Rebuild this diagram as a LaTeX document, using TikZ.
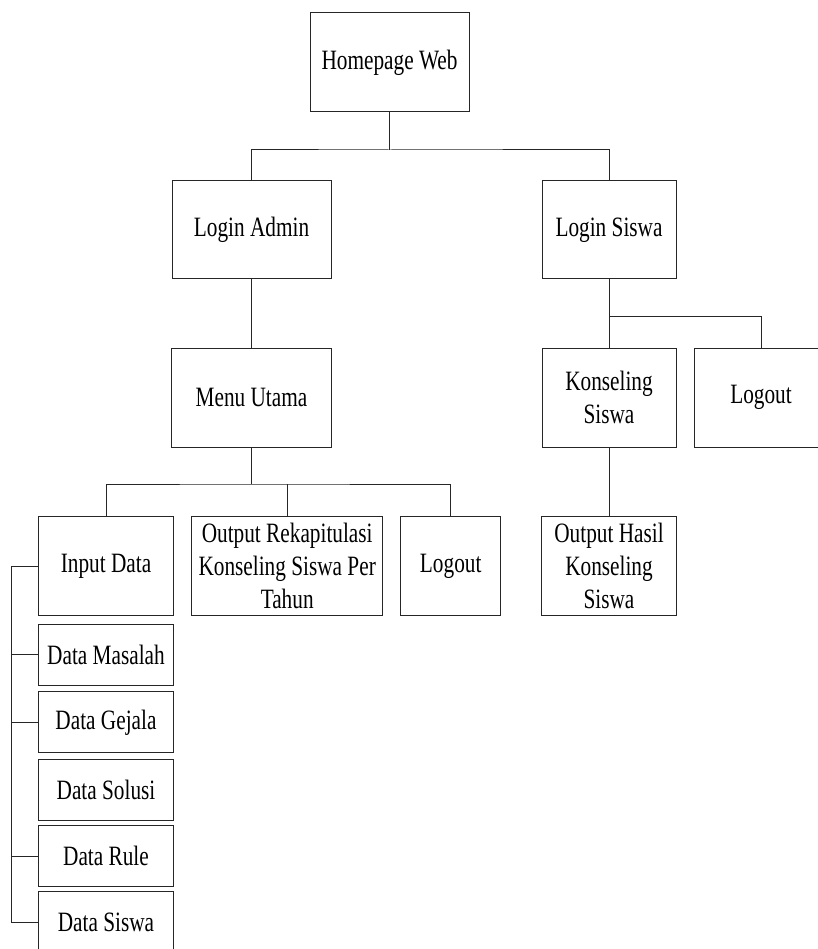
\documentclass[tikz,border=0pt]{standalone}
\usepackage{fontspec}
\setmainfont{Liberation Serif}[FakeStretch=0.76]
\begin{document}
\begin{tikzpicture}[x=1pt,y=-1pt,
  every node/.style={font=\fontsize{28}{33}\selectfont},
  box/.style={draw=black!85,line width=1pt,inner sep=0pt,align=center,anchor=center},
  link/.style={draw=black!85,line width=1pt}]
\useasboundingbox (0,0) rectangle (817,949);
\node[box,minimum width=159,minimum height=99] (home) at (389.5,62.5) {Homepage Web};
\node[box,minimum width=159,minimum height=98] (ladmin) at (251.5,230) {Login Admin};
\node[box,minimum width=134,minimum height=98] (lsiswa) at (609,230) {Login Siswa};
\node[box,minimum width=160,minimum height=99] (menu) at (251.5,397.5) {Menu Utama};
\node[box,minimum width=134,minimum height=99] (kons) at (609,397.5) {Konseling\\Siswa};
\node[box,minimum width=134,minimum height=99] (logout1) at (761,397.5) {Logout};
\node[box,minimum width=134.6,minimum height=99.3] (input) at (106,566.3) {Input Data};
\node[box,minimum width=191,minimum height=99] (outrek) at (287.2,566.2) {Output Rekapitulasi\\Konseling Siswa Per\\Tahun};
\node[box,minimum width=100,minimum height=99] (logout2) at (450.7,566.2) {Logout};
\node[box,minimum width=134.6,minimum height=99.3] (outhasil) at (609,566.3) {Output Hasil\\Konseling\\Siswa};
\node[box,minimum width=134.6,minimum height=60.7] (masalah) at (106,654.7) {Data Masalah};
\node[box,minimum width=134.6,minimum height=60.7] (gejala) at (106,722.3) {Data Gejala};
\node[box,minimum width=134.6,minimum height=61.4] (solusi) at (106,790) {Data Solusi};
\node[box,minimum width=134.6,minimum height=61] (rule) at (106,856.2) {Data Rule};
\node[box,minimum width=134.6,minimum height=61] (siswa) at (106,922.2) {Data Siswa};
\coordinate (j1) at (389.5,150);
\coordinate (j2) at (609,316.7);
\coordinate (j3) at (251.5,484);
\coordinate (bx) at (11,566.3);
\draw[link] (home.south) -- (j1);
\draw[link] (ladmin.north) |- (j1) -| (lsiswa.north);
\draw[link] (ladmin.south) -- (menu.north);
\draw[link] (lsiswa.south) -- (kons.north);
\draw[link] (j2) -| (logout1.north);
\draw[link] (menu.south) -- (j3);
\draw[link] (input.north) |- (j3) -| (logout2.north);
\draw[link] (outrek.north) -- (outrek.north |- j3);
\draw[link] (kons.south) -- (outhasil.north);
\draw[link] (input.west) -- (bx) -- (bx |- siswa.west) -- (siswa.west);
\draw[link] (masalah.west) -- (masalah.west -| bx);
\draw[link] (gejala.west) -- (gejala.west -| bx);
\draw[link] (rule.west) -- (rule.west -| bx);
\end{tikzpicture}
\end{document}
